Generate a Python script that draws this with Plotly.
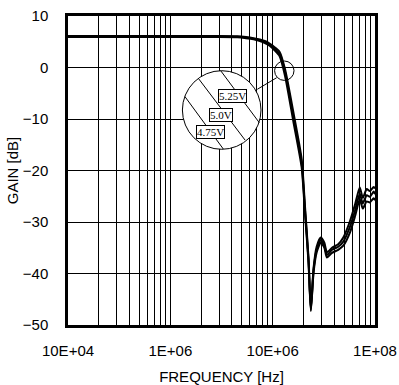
import plotly.graph_objects as go

# ---- data ----
freq_hz = [1e5, 3e5, 1e6, 3e6, 4.5e6, 5.5e6, 6.5e6, 7.5e6, 8.5e6, 9.4e6, 1.05e7, 1.17e7, 1.32e7, 1.59e7,
           1.92e7, 2.07e7, 2.24e7, 2.36e7, 2.51e7, 2.69e7, 2.95e7, 3.2e7, 3.39e7,
           3.8e7, 4.37e7, 4.9e7, 5.7e7, 6.4e7, 7.1e7, 7.6e7, 8.3e7, 8.9e7, 9.7e7, 1e8]
gain_5v00 = [6.0, 6.0, 6.0, 6.0, 5.95, 5.8, 5.6, 5.3, 4.9, 4.4, 3.6, 2.6, -0.9, -9.5,
             -18.6, -27.7, -37.4, -47.1, -39.3, -35.4, -33.5, -34.5, -36.4,
             -35.4, -34.8, -33.8, -30.9, -27.7, -24.5, -26.4, -24.8, -25.1, -24.1, -24.6]
gain_5v25 = [6.1, 6.1, 6.1, 6.1, 6.05, 5.9, 5.7, 5.45, 5.1, 4.6, 3.9, 3.0, -0.3, -8.6,
             -17.8, -27.0, -36.9, -46.8, -38.9, -34.8, -33.0, -34.0, -35.9,
             -35.0, -34.3, -33.0, -29.8, -26.5, -23.3, -25.3, -23.6, -24.0, -23.2, -23.5]
gain_4v75 = [5.9, 5.9, 5.9, 5.9, 5.85, 5.7, 5.5, 5.15, 4.7, 4.2, 3.3, 2.2, -1.6, -10.4,
             -19.4, -28.4, -37.9, -47.3, -39.8, -35.9, -34.0, -35.0, -36.9,
             -36.0, -35.4, -34.6, -32.0, -28.8, -25.6, -27.4, -26.0, -26.2, -25.4, -25.8]
series_names = ["5.25V", "5.0V", "4.75V"]

x_tickvals = [1e5, 1e6, 1e7, 1e8]
x_ticktext = ["10E+04", "1E+06", "10E+06", "1E+08"]
x_minor = [m * 10 ** e for e in (5, 6, 7) for m in range(2, 10)]
y_tickvals = [10, 0, -10, -20, -30, -40, -50]

# ---- layout geometry (pixels) ----
W, H = 399, 385
L, R, T, B = 68, 375, 16, 325


def px(x):
    return (x - L) / (R - L)


def py(y):
    return (B - y) / (B - T)


fig = go.Figure()
for name, g in zip(series_names, [gain_5v25, gain_5v00, gain_4v75]):
    fig.add_trace(go.Scatter(x=freq_hz, y=g, mode="lines", name=name,
                             line=dict(color="black", width=2, shape="spline", smoothing=0.6)))

font = dict(family="Liberation Sans, Arial, sans-serif", size=15, color="black")

fig.update_layout(
    width=W, height=H,
    margin=dict(l=L, r=W - R, t=T, b=H - B),
    paper_bgcolor="white", plot_bgcolor="white",
    showlegend=False,
    font=font,
)
fig.update_xaxes(
    type="log", range=[5, 8], automargin=False,
    tickvals=x_tickvals, ticktext=x_ticktext,
    ticks="outside", ticklen=10, tickcolor="rgba(0,0,0,0)",
    showgrid=True, gridcolor="black", gridwidth=1,
    minor=dict(tickvals=x_minor, showgrid=True, gridcolor="black", gridwidth=1, ticks=""),
    showline=True, linecolor="black", linewidth=2.5, mirror=True,
    title=dict(text="FREQUENCY [Hz]", font=font, standoff=14),
    zeroline=False,
)
fig.update_yaxes(
    range=[-50, 10], tickvals=y_tickvals, automargin=False,
    ticks="outside", ticklen=14, tickcolor="rgba(0,0,0,0)",
    showgrid=True, gridcolor="black", gridwidth=1,
    showline=True, linecolor="black", linewidth=2.5, mirror=True,
    title=dict(text="GAIN [dB]", font=font, standoff=1),
    zeroline=False,
)

# ---- zoom inset decoration ----
line_k = dict(color="black", width=1)
fig.add_shape(type="circle", xref="paper", yref="paper",
              x0=px(182.4), x1=px(261.0), y0=py(149.3), y1=py(70.7),
              line=line_k, fillcolor="white", layer="above")
fig.add_shape(type="circle", xref="paper", yref="paper",
              x0=px(274.6), x1=px(294.0), y0=py(80.4), y1=py(61.0),
              line=line_k, layer="above")
fig.add_shape(type="line", xref="paper", yref="paper",
              x0=px(257.3), y0=py(89.3), x1=px(276.7), y1=py(77.7),
              line=line_k, layer="above")
for (xa, ya, xb, yb) in [(220.7, 70.7, 259.3, 122.7),
                         (198.3, 78.3, 245.0, 140.0),
                         (185.0, 96.7, 223.3, 149.0)]:
    fig.add_shape(type="line", xref="paper", yref="paper",
                  x0=px(xa), y0=py(ya), x1=px(xb), y1=py(yb),
                  line=line_k, layer="above")
for name, (cx, cy) in zip(series_names, [(232.5, 89.0), (220.5, 107.5), (210.5, 132.0)]):
    fig.add_annotation(xref="paper", yref="paper", x=px(cx), y=py(cy),
                       text=name, showarrow=False,
                       font=dict(family="Liberation Serif, DejaVu Serif, serif", size=11, color="black"),
                       bgcolor="white", bordercolor="black", borderwidth=1, borderpad=0)

fig.write_html("out.html", config={"displayModeBar": False},
               post_script="document.body.style.margin='0';")
